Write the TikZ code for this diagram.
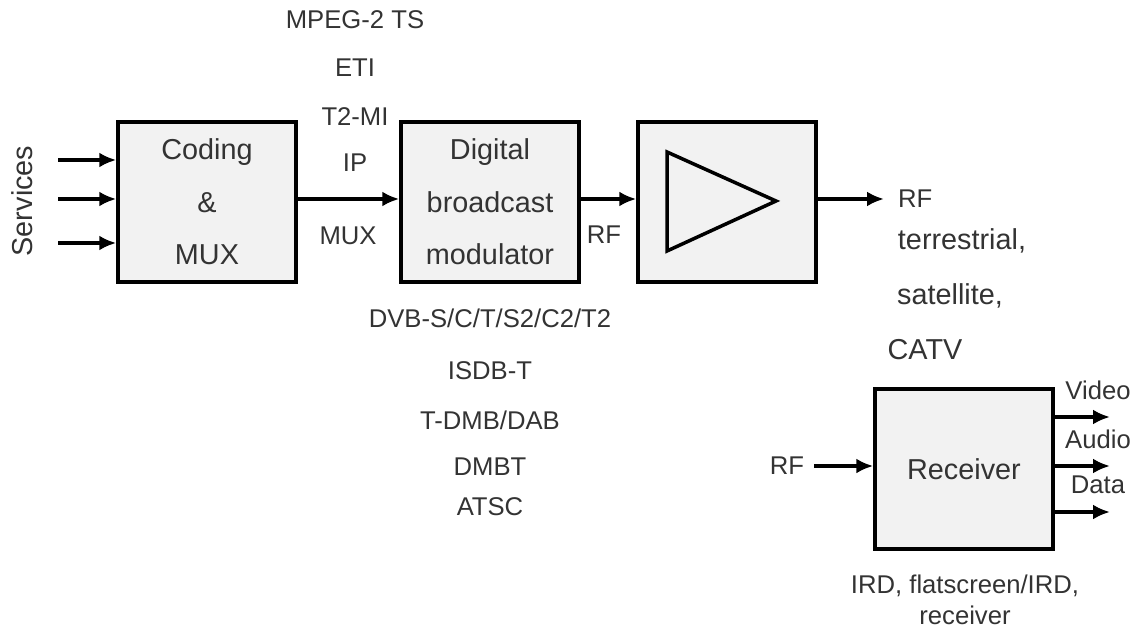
\documentclass[tikz,border=0pt]{standalone}
\usepackage{fontspec}
\setmainfont{Liberation Sans}
\usetikzlibrary{calc, positioning}
\usetikzlibrary{arrows.meta}

\begin{document}
\begin{tikzpicture}[x=0.02cm,y=-0.02cm]
\colorlet{boxgray}{black!5}
\colorlet{txtgray}{black!80}
\tikzset{
    block/.style={draw=black,fill=boxgray,line width=2pt,
        minimum width=3.56cm,minimum height=3.2cm,inner sep=0pt,
        text=txtgray,align=center,
        font=\fontsize{16.4}{29.8}\selectfont},
    lab/.style={text=txtgray,inner sep=1pt,
        font=\fontsize{14.6}{17}\selectfont},
    biglab/.style={text=txtgray,inner sep=1pt,
        font=\fontsize{16.4}{19}\selectfont},
    sig/.style={line width=2pt,-{Latex[length=3.4mm,width=3mm]}}
}
\useasboundingbox (0,0) rectangle (1141,634);

% transmitter chain
\node[block] (cod) at (207,202) {Coding\\\&\\MUX};
\node[block] (mod) at (490,202) {Digital\\broadcast\\modulator};
\node[block] (amp) at (727,202) {};
\draw[line width=2pt,line join=miter]
    ($(amp)+(-60,-50)$) -- ($(amp)+(49,-1)$) -- ($(amp)+(-60,49)$) -- cycle;

% services in
\node[biglab,rotate=90] (srv) at (22,201) {Services};
\foreach \y/\nm in {160/s1,199/s2,243/s3} {
    \coordinate (\nm) at (58,\y);
    \draw[sig] (\nm) -- (cod.west |- \nm);
}

\draw[sig] (cod.east |- s2) -- (mod.west |- s2);
\draw[sig] (mod.east |- s2) -- (amp.west |- s2);
\coordinate (rfout) at (884,199);
\draw[sig] (amp.east |- rfout) -- (rfout);

% interface labels
\foreach \y/\txt/\nm in {20/MPEG-2 TS/ts,68/ETI/eti,117/T2-MI/tmi,163/IP/ip} {
    \node[lab] (\nm) at (355,\y) {\txt};
}
\node[lab] (mux) at (348,236) {MUX};
\node[lab] (rfa) at (604,235) {RF};
\node[lab,anchor=west] (rfb) at (896,199) {RF};
\node[biglab] (ter) at (962,241) {terrestrial,};
\node[biglab] (sat) at (950,296) {satellite,};
\node[biglab] (catv) at (925,350) {CATV};

% standards
\foreach \y/\txt/\nm in {318/{DVB-S/C/T/S2/C2/T2}/dvb,371/ISDB-T/isdb,
    420/{T-DMB/DAB}/dmb,467/DMBT/dmbt,507/ATSC/atsc} {
    \node[lab] (\nm) at (490,\y) {\txt};
}

% receiver
\node[block] (rx) at (964,469) {Receiver};
\node[lab] (rfc) at (787,466) {RF};
\draw[sig] (rfc.east) ++(8,0) coordinate (rfin) -- (rx.west |- rfin);
\foreach \y/\txt/\nm in {417/Video/vid,466/Audio/aud,512/Data/dat} {
    \coordinate (\nm) at (1110,\y);
    \draw[sig] (rx.east |- \nm) -- (\nm);
    \node[lab] (\nm-lab) at (1098,\y-27) {\txt};
}
\node[lab,align=center,font=\fontsize{14.6}{17.6}\selectfont] (ird) at (965,600)
    {IRD, flatscreen/IRD,\\receiver};
\end{tikzpicture}
\end{document}
